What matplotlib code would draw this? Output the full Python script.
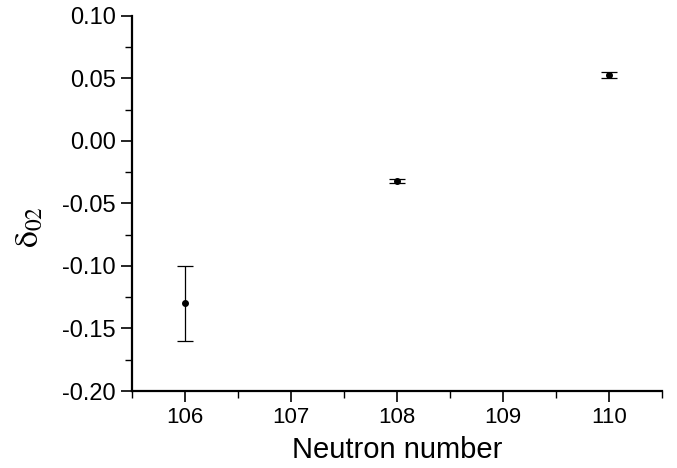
import numpy as np
import matplotlib
matplotlib.use("Agg")
import matplotlib.pyplot as plt
from matplotlib.ticker import MultipleLocator, FormatStrFormatter

# values
neutron = [106, 108, 110]
delta02 = [-0.130, -0.032, 0.053]
err = [0.030, 0.0015, 0.0025]

plt.rcParams['font.family'] = ['Liberation Sans', 'DejaVu Sans']
plt.rcParams['mathtext.fontset'] = 'stix'

fig = plt.figure(figsize=(6.77, 4.68), dpi=100)
ax = fig.add_axes([0.195, 0.1645, 0.783, 0.8015])

ax.errorbar(neutron, delta02, yerr=err, fmt='o', color='black',
            markersize=4, elinewidth=0.9, capsize=6, capthick=0.9)

ax.set_xlim(105.5, 110.5)
ax.set_ylim(-0.20, 0.10)
ax.xaxis.set_major_locator(MultipleLocator(1))
ax.xaxis.set_minor_locator(MultipleLocator(0.5))
ax.yaxis.set_major_locator(MultipleLocator(0.05))
ax.yaxis.set_minor_locator(MultipleLocator(0.025))
ax.yaxis.set_major_formatter(FormatStrFormatter('%.2f'))

for s in ['top', 'right']:
    ax.spines[s].set_visible(False)
for s in ['left', 'bottom']:
    ax.spines[s].set_linewidth(1.6)

ax.tick_params(which='major', direction='out', length=8, width=1.2)
ax.tick_params(which='minor', direction='out', length=5, width=1.0)
ax.tick_params(axis='x', which='major', labelsize=16)
ax.tick_params(axis='y', which='major', labelsize=17)

ax.set_xlabel('Neutron number', fontsize=21, labelpad=6)
ax.set_ylabel(r'$\mathrm{\delta}_{\mathrm{02}}$', fontsize=24)
ax.yaxis.set_label_coords(-0.164, 0.437)

fig.savefig('out.png', dpi=100)
